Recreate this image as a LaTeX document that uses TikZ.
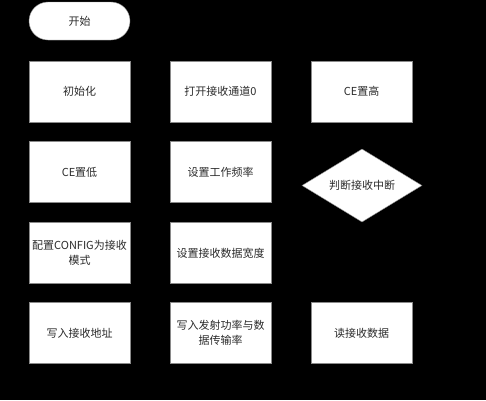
\documentclass[tikz,border=0pt]{standalone}
\usepackage{fontspec}
\usepackage{tikz}
\usetikzlibrary{shapes.geometric}
\newfontfamily\cjk{Noto Sans CJK SC}
\definecolor{edge}{HTML}{8A8A8A}
\definecolor{ink}{HTML}{2B2B2B}

\begin{document}
\begin{tikzpicture}[x=1pt,y=-1pt,
    box/.style={draw=edge,fill=white,thin,minimum width=101pt,minimum height=61pt,
      text width=96pt,align=center,inner sep=0pt,font=\cjk\fontsize{11}{15}\selectfont,text=ink},
    term/.style={box,rounded corners=19pt,minimum height=38pt},
    test/.style={diamond,draw=edge,fill=white,thin,minimum width=120pt,minimum height=73pt,
      aspect=1.64,inner sep=0pt,font=\cjk\fontsize{11}{15}\selectfont,text=ink}]
    \fill[black] (0,0) rectangle (486,400);
    \useasboundingbox (0,0) rectangle (486,400);
    % first column
    \node[term] (start) at (79.5,21) {开始};
    \node[box] (init) at (79.5,91.5) {初始化};
    \node[box] (celow) at (79.5,172) {CE置低};
    \node[box] (config) at (79.5,253) {配置CONFIG为接收\\模式};
    \node[box] (addr) at (79.5,333) {写入接收地址};
    % second column
    \node[box] (pipe) at (220.5,91.5) {打开接收通道0};
    \node[box] (freq) at (220.5,172) {设置工作频率};
    \node[box] (width) at (220.5,253) {设置接收数据宽度};
    \node[box] (power) at (220.5,333) {写入发射功率与数\\据传输率};
    % third column
    \node[box] (cehigh) at (361.5,91.5) {CE置高};
    \node[test] (irq) at (362,185.5) {判断接收中断};
    \node[box] (read) at (361.5,333) {读接收数据};
  \end{tikzpicture}
\end{document}
